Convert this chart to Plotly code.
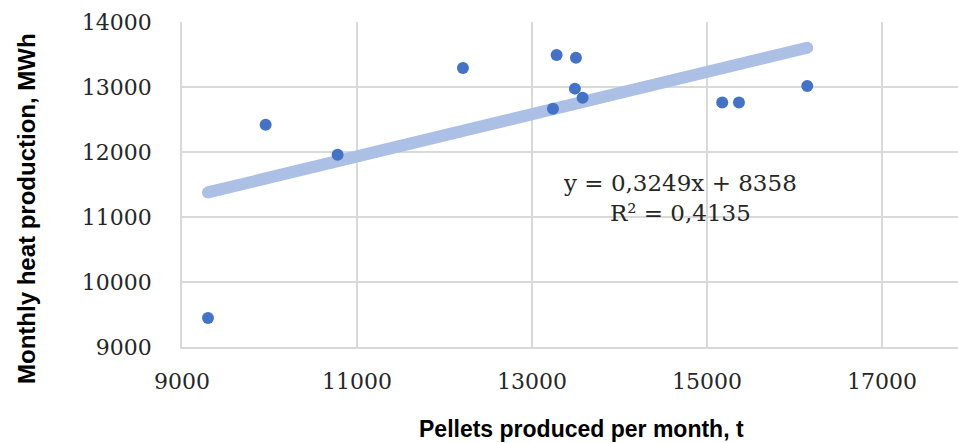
import plotly.graph_objects as go

pellets_t = [9297, 9956, 10779, 12211, 13282, 13503, 13491, 13579, 13240, 15175, 15366, 16147]
heat_mwh = [9446, 12421, 11956, 13293, 13493, 13451, 12975, 12836, 12667, 12760, 12760, 13016]
slope = 0.3249
intercept = 8358
x_ticks = [9000, 11000, 13000, 15000, 17000]
y_ticks = [9000, 10000, 11000, 12000, 13000, 14000]
eq_text = "y = 0,3249x + 8358<br>R² = 0,4135"
x_title = "Pellets produced per month, t"
y_title = "Monthly heat production, MWh"

x_min, x_max = min(pellets_t), max(pellets_t)
trend_x = [x_min, x_max]
trend_y = [slope * v + intercept for v in trend_x]

trend_color = "#ABC0E4"
fig = go.Figure()
fig.add_trace(go.Scatter(x=trend_x, y=trend_y, mode="lines+markers",
                         line=dict(color=trend_color, width=12),
                         marker=dict(color=trend_color, size=12),
                         hoverinfo="skip", showlegend=False))
fig.add_trace(go.Scatter(x=pellets_t, y=heat_mwh, mode="markers",
                         marker=dict(color="#4472C4", size=12),
                         showlegend=False))

tick_font = dict(family="DejaVu Serif", size=22, color="#262626")

W, H = 958, 443
pl, pr, pt, pb = 182, 958, 22, 347

fig.update_layout(
    width=W, height=H,
    margin=dict(l=pl, r=W - pr, t=pt, b=H - pb),
    paper_bgcolor="white", plot_bgcolor="white",
    xaxis=dict(range=[9000, 17870], tickvals=x_ticks,
               ticktext=[str(v) for v in x_ticks], showgrid=True,
               gridcolor="#D9D9D9", gridwidth=1.5, zeroline=False,
               showline=True, linecolor="#D9D9D9", linewidth=1.5,
               tickfont=tick_font, ticks="", ticklabelstandoff=14),
    yaxis=dict(range=[9000, 14000], tickvals=y_ticks,
               ticktext=[str(v) for v in y_ticks], showgrid=True,
               gridcolor="#D9D9D9", gridwidth=1.5, zeroline=False,
               showline=True, linecolor="#D9D9D9", linewidth=1.5,
               tickfont=tick_font, ticks="", ticklabelstandoff=24),
)

pw, ph = pr - pl, pb - pt

def paper(px, py):
    return (px - pl) / pw, (pb - py) / ph

ex, ey = paper(680, 198)
fig.add_annotation(text=eq_text, x=ex, y=ey, xref="paper", yref="paper",
                   showarrow=False, font=dict(family="DejaVu Serif", size=23, color="#262626"),
                   align="center", xanchor="center", yanchor="middle")
tx, ty = paper(581, 429)
fig.add_annotation(text="<b>" + x_title + "</b>", x=tx, y=ty, xref="paper", yref="paper",
                   showarrow=False, xanchor="center", yanchor="middle",
                   font=dict(family="Liberation Sans Narrow, Arial Narrow, Liberation Sans", size=23, color="black"))
yx, yy = paper(26, 209)
fig.add_annotation(text="<b>" + y_title + "</b>", x=yx, y=yy, xref="paper", yref="paper",
                   showarrow=False, textangle=-90, xanchor="center", yanchor="middle",
                   font=dict(family="Liberation Sans Narrow, Arial Narrow, Liberation Sans", size=24, color="black"))

fig.write_html("out.html", config={"displayModeBar": False},
               post_script="document.body.style.margin='0';document.body.style.overflow='hidden';")
